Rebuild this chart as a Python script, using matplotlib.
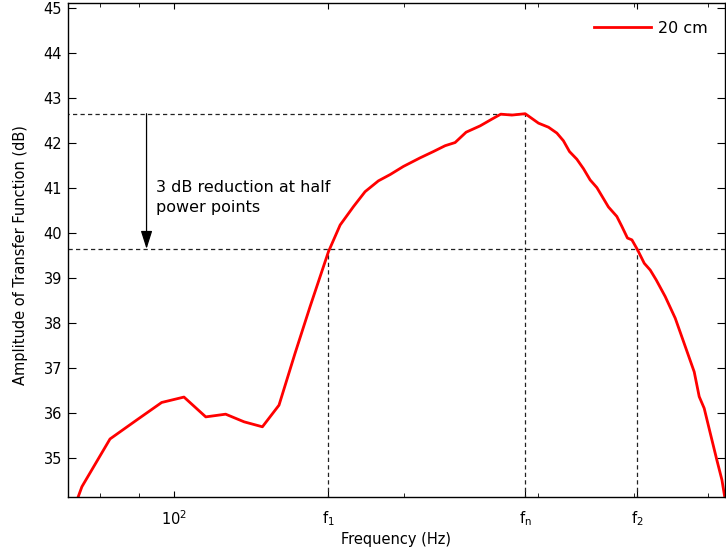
import matplotlib

matplotlib.use("Agg")
import matplotlib.pyplot as plt
from matplotlib.ticker import FixedLocator, NullFormatter

plt.rcParams["font.family"] = ["DejaVu Sans"]
plt.rcParams["mathtext.fontset"] = "dejavusans"

# transfer function, 20 cm
freq_hz = [74.5, 75.7, 82.4, 89.3, 96.3, 103.0, 110.0, 116.8, 123.5, 130.5,
           137.2, 144.0, 150.7, 159.3, 165.0, 171.8, 177.9, 185.2, 191.9, 199.7,
           210.0, 218.6, 226.5, 233.4, 241.3, 251.7, 260.8, 267.9, 277.0, 288.4,
           300.2, 309.4, 317.3, 323.6, 329.6, 337.0, 343.8, 350.8, 358.0, 370.7,
           380.2, 386.0, 392.6, 397.9, 404.7, 413.0, 420.5, 428.2, 440.0, 453.5,
           465.0, 480.2, 487.5, 494.9, 504.0, 514.2, 522.1, 527.0]
amp_db = [34.05, 34.37, 35.43, 35.85, 36.24, 36.36, 35.92, 35.98, 35.81, 35.70,
          36.18, 37.33, 38.37, 39.59, 40.18, 40.59, 40.92, 41.16, 41.30, 41.48,
          41.67, 41.81, 41.94, 42.01, 42.24, 42.38, 42.53, 42.64, 42.62, 42.65,
          42.44, 42.35, 42.22, 42.05, 41.81, 41.64, 41.43, 41.18, 41.01, 40.58,
          40.37, 40.15, 39.89, 39.85, 39.63, 39.33, 39.18, 38.96, 38.59, 38.11,
          37.59, 36.92, 36.37, 36.11, 35.56, 34.96, 34.52, 34.10]

peak_db = 42.65
half_power_db = 39.65
f1, fn, f2 = 159.3, 288.4, 404.0
arrow_f = 92.0
text_f = 94.6

xtick_vals = [100, f1, fn, f2]
xtick_labels = ["$\\mathregular{10^2}$", "$\\mathregular{f_1}$",
                "$\\mathregular{f_n}$", "$\\mathregular{f_2}$"]
minor_vals = [80, 90, 200, 300, 400, 500]
ytick_vals = [35, 36, 37, 38, 39, 40, 41, 42, 43, 44, 45]

fig = plt.figure(figsize=(7.26, 5.58), dpi=100)
ax = fig.add_axes([0.0931, 0.110, 0.906, 0.884])

dash = dict(color="#222222", linewidth=0.9, linestyle=(0, (3.4, 2.6)))
ax.axhline(half_power_db, **dash)
ax.plot([72.0, fn], [peak_db, peak_db], **dash)
ax.plot([f1, f1], [30, half_power_db], **dash)
ax.plot([fn, fn], [30, peak_db], **dash)
ax.plot([f2, f2], [30, half_power_db], **dash)

ax.plot(freq_hz, amp_db, color="#ff0000", linewidth=2.0, label="20 cm")

ax.annotate("", xy=(arrow_f, half_power_db), xytext=(arrow_f, peak_db),
            arrowprops=dict(arrowstyle="-|>,head_length=1.1,head_width=0.35",
                            color="k", linewidth=0.9, shrinkA=0, shrinkB=0))
ax.text(text_f, 40.79, "3 dB reduction at half\npower points", fontsize=11.5,
        ha="left", va="center", linespacing=1.4)

ax.set_xscale("log")
ax.set_xlim(72.5, 527.5)
ax.set_ylim(34.15, 45.1)

ax.xaxis.set_major_locator(FixedLocator(xtick_vals))
ax.set_xticklabels(xtick_labels)
ax.xaxis.set_minor_locator(FixedLocator(minor_vals))
ax.xaxis.set_minor_formatter(NullFormatter())
ax.set_yticks(ytick_vals)

ax.tick_params(which="both", direction="in", top=True, right=True, labelsize=10.5)
ax.tick_params(axis="x", which="major", length=4, pad=9)
ax.tick_params(axis="x", which="minor", length=3)
ax.tick_params(axis="y", length=5.5, pad=4)
for s in ax.spines.values():
    s.set_linewidth(1.0)

ax.set_xlabel("Frequency (Hz)", fontsize=10.5)
ax.xaxis.set_label_coords(0.5, -0.0715)
ax.set_ylabel("Amplitude of Transfer Function (dB)", fontsize=10.5)
ax.yaxis.set_label_coords(-0.071, 0.49)
ax.yaxis.label.set_va("center")

ax.legend(loc="upper right", bbox_to_anchor=(0.995, 0.994), frameon=False,
          fontsize=11.5, handlelength=3.6, handletextpad=0.42)

fig.savefig("out.png")
